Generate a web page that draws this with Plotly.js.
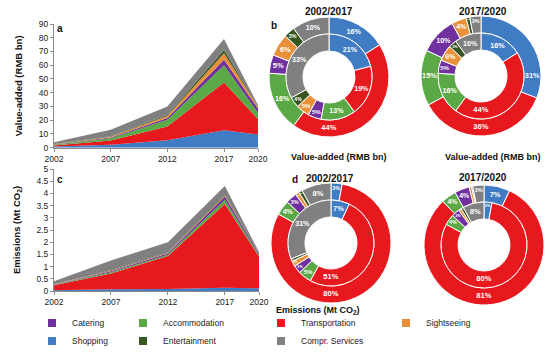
<!DOCTYPE html>
<html><head><meta charset="utf-8">
<script src="https://cdn.plot.ly/plotly-3.0.1.min.js"></script>
<style>html,body{margin:0;padding:0;background:#fff}#chart{width:550px;height:352px}</style>
</head><body><div id="chart"></div>
<script>
// ---------- data ----------
const years = [2002, 2007, 2012, 2017, 2020];
const categories = ['Shopping', 'Transportation', 'Accommodation', 'Catering', 'Sightseeing', 'Entertainment', 'Compr. Services'];
const legendOrder = ['Catering', 'Accommodation', 'Transportation', 'Sightseeing', 'Shopping', 'Entertainment', 'Compr. Services'];

// value-added (RMB bn)
const vaShopping       = [0.84, 2.2, 5.5, 12.64, 9.61];
const vaTransportation = [0.76, 3.0, 10.0, 34.76, 11.16];
const vaAccommodation  = [0.52, 1.6, 4.8, 12.64, 4.65];
const vaCatering       = [0.20, 0.6, 1.3, 3.95, 3.10];
const vaSightseeing    = [0.20, 0.6, 1.4, 4.74, 1.24];
const vaEntertainment  = [0.16, 0.4, 0.8, 2.37, 0.31];
const vaComprServices  = [1.32, 4.6, 6.2, 7.90, 0.93];

// emissions (Mt CO2)
const emShopping       = [0.028, 0.07, 0.08, 0.129, 0.112];
const emTransportation = [0.204, 0.65, 1.35, 3.440, 1.296];
const emAccommodation  = [0.020, 0.05, 0.06, 0.172, 0.064];
const emCatering       = [0.012, 0.04, 0.05, 0.129, 0.064];
const emSightseeing    = [0.008, 0.02, 0.02, 0.043, 0.011];
const emEntertainment  = [0.004, 0.02, 0.02, 0.043, 0.005];
const emComprServices  = [0.124, 0.40, 0.42, 0.344, 0.048];

const donutPairs = [[2002, 2017], [2017, 2020]]; // inner year, outer year

// ---------- styling ----------
const colors = {
  'Shopping': '#3f7cc4',
  'Transportation': '#e8191e',
  'Accommodation': '#5aa846',
  'Catering': '#7030a0',
  'Sightseeing': '#e8913a',
  'Entertainment': '#375623',
  'Compr. Services': '#808080'
};
// legend item placement (left x of legend box, y) in pixels
const legendPlace = {
  'Catering': [32, 323], 'Accommodation': [123, 323], 'Transportation': [261, 323], 'Sightseeing': [386, 323],
  'Shopping': [32, 341], 'Entertainment': [123, 341], 'Compr. Services': [261, 341]
};
const FONT = 'Arial, "Liberation Sans", sans-serif';
const W = 550, H = 352;
const px = x => x / W;
const py = y => 1 - y / H;

const vaSeries = [vaShopping, vaTransportation, vaAccommodation, vaCatering, vaSightseeing, vaEntertainment, vaComprServices];
const emSeries = [emShopping, emTransportation, emAccommodation, emCatering, emSightseeing, emEntertainment, emComprServices];

const traces = [];

function areas(series, group, xa, ya) {
  categories.forEach((c, i) => {
    traces.push({
      type: 'scatter', mode: 'lines', x: years, y: series[i], stackgroup: group,
      line: {width: 0, color: colors[c]}, fillcolor: colors[c],
      xaxis: xa, yaxis: ya, showlegend: false, hoverinfo: 'skip'
    });
  });
}
areas(vaSeries, 'va', 'x', 'y');
areas(emSeries, 'em', 'x2', 'y2');

function donut(series, year, cx, cy, r, hole) {
  const yi = years.indexOf(year);
  const vals = series.map(s => s[yi]);
  return {
    type: 'pie', values: vals, labels: categories, sort: false,
    direction: 'clockwise', rotation: 0, hole: hole,
    marker: {colors: categories.map(c => colors[c]), line: {color: '#ffffff', width: 1}},
    domain: {x: [px(cx - r), px(cx + r)], y: [py(cy + r), py(cy - r)]},
    textposition: 'inside', insidetextorientation: 'horizontal',
    texttemplate: '%{percent:.0%}',
    textfont: {color: '#ffffff', size: 7.5, family: FONT, weight: 'bold'},
    showlegend: false, hoverinfo: 'skip'
  };
}
const R_OUT = 60, R_MID = 43, R_HOLE = 26;
const centersB = [[329, 77], [481, 76]];
const centersD = [[331, 243], [484, 245]];
donutPairs.forEach((pair, k) => {
  traces.push(donut(vaSeries, pair[1], centersB[k][0], centersB[k][1], R_OUT, R_MID / R_OUT));
  traces.push(donut(vaSeries, pair[0], centersB[k][0], centersB[k][1], R_MID, R_HOLE / R_MID));
  traces.push(donut(emSeries, pair[1], centersD[k][0], centersD[k][1], R_OUT, R_MID / R_OUT));
  traces.push(donut(emSeries, pair[0], centersD[k][0], centersD[k][1], R_MID, R_HOLE / R_MID));
});

const axisCommon = {
  showline: true, linecolor: '#8c8c8c', linewidth: 1, showgrid: false, zeroline: false,
  ticks: 'outside', ticklen: 3, tickcolor: '#8c8c8c',
  tickfont: {size: 8.5, color: '#222', family: FONT}, fixedrange: true
};
const legendCommon = {
  orientation: 'v', xanchor: 'left', yanchor: 'middle', bgcolor: 'rgba(0,0,0,0)', traceorder: 'normal',
  itemwidth: 30, font: {size: 8.5, color: '#222', family: FONT}, tracegroupgap: 0, itemclick: false
};

function ann(text, x, y, size, extra) {
  return Object.assign({
    text: text, xref: 'paper', yref: 'paper', x: px(x), y: py(y),
    xanchor: 'center', yanchor: 'middle', showarrow: false,
    font: {size: size, color: '#111', family: FONT, weight: 'bold'}
  }, extra || {});
}

const layout = {
  width: W, height: H, margin: {l: 0, r: 0, t: 0, b: 0, autoexpand: false},
  paper_bgcolor: '#ffffff', plot_bgcolor: '#ffffff',
  font: {family: FONT},
  xaxis: Object.assign({}, axisCommon, {domain: [px(54), px(258)], range: [2002, 2020], anchor: 'y', tickvals: years}),
  yaxis: Object.assign({}, axisCommon, {domain: [py(147.7), py(24)], range: [0, 90], dtick: 10, anchor: 'x',
    title: {text: 'Value-added (RMB bn)', font: {size: 9.5, color: '#111', family: FONT, weight: 'bold'}, standoff: 14}}),
  xaxis2: Object.assign({}, axisCommon, {domain: [px(54), px(259)], range: [2002, 2020], anchor: 'y2', tickvals: years}),
  yaxis2: Object.assign({}, axisCommon, {domain: [py(291), py(169)], range: [0, 5], dtick: 0.5, anchor: 'x2',
    title: {text: 'Emissions (Mt CO<sub>2</sub>)', font: {size: 9.5, color: '#111', family: FONT, weight: 'bold'}, standoff: 14}}),
  annotations: [
    ann('a', 60, 28, 10),
    ann('b', 274, 25, 10),
    ann('c', 60, 179, 10),
    ann('d', 295, 179, 10),
    ann('2002/2017', 329, 12, 10),
    ann('2017/2020', 483, 12, 10),
    ann('Value-added (RMB bn)', 339, 157, 9),
    ann('Value-added (RMB bn)', 493, 157, 9),
    ann('2002/2017', 330, 178, 10),
    ann('2017/2020', 483, 177, 10),
    ann('Emissions (Mt CO<sub>2</sub>)', 318, 310, 9)
  ]
};

// legend-only entries, one small legend per entry
legendOrder.forEach((c, i) => {
  const id = 'legend' + (i + 2);
  traces.push({
    type: 'scatter', mode: 'markers', x: [null], y: [null], name: c,
    marker: {symbol: 'square', size: 8, color: colors[c]},
    legend: id, showlegend: true, hoverinfo: 'skip', xaxis: 'x', yaxis: 'y'
  });
  layout[id] = Object.assign({}, legendCommon, {x: px(legendPlace[c][0]), y: py(legendPlace[c][1])});
});

Plotly.newPlot('chart', traces, layout, {staticPlot: true, displayModeBar: false});
</script>
</body></html>
